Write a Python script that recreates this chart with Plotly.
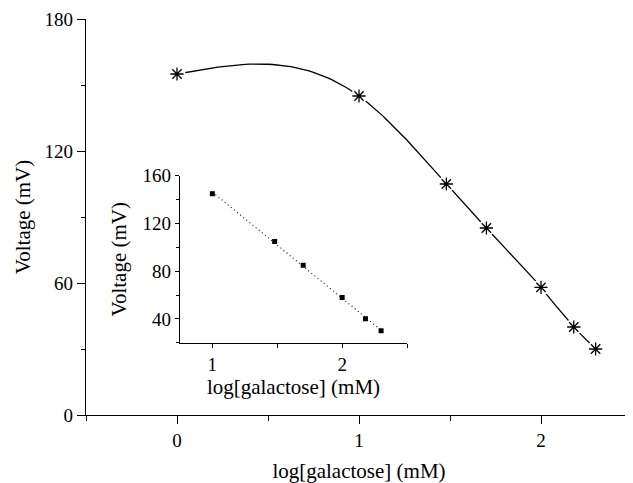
import numpy as np
import plotly.graph_objects as go

# Main data
log_gal = [0.0, 1.0, 1.48, 1.70, 2.0, 2.18, 2.30]
voltage = [155, 145, 105, 85, 58, 40, 30]

# Inset data
inset_log_gal = [1.0, 1.48, 1.70, 2.0, 2.18, 2.30]
inset_voltage = [145, 105, 85, 58, 40, 30]

x_ticks_main = [0, 1, 2]
y_ticks_main = [0, 60, 120, 180]
x_ticks_inset = [1, 2]
y_ticks_inset = [40, 80, 120, 160]

FONT = "Liberation Serif"
BLACK = "#000000"


def natural_spline(xs, ys, n_per=40):
    """Smooth curve through the data points (natural cubic spline)."""
    x = np.asarray(xs, float)
    y = np.asarray(ys, float)
    n = len(x)
    h = np.diff(x)
    A = np.zeros((n, n))
    b = np.zeros(n)
    A[0, 0] = A[-1, -1] = 1
    for i in range(1, n - 1):
        A[i, i - 1] = h[i - 1]
        A[i, i] = 2 * (h[i - 1] + h[i])
        A[i, i + 1] = h[i]
        b[i] = 6 * ((y[i + 1] - y[i]) / h[i] - (y[i] - y[i - 1]) / h[i - 1])
    M = np.linalg.solve(A, b)
    out_x, out_y = [], []
    for i in range(n - 1):
        t = np.linspace(x[i], x[i + 1], n_per, endpoint=(i == n - 2))
        a = x[i + 1] - t
        c = t - x[i]
        s = (M[i] * a**3 + M[i + 1] * c**3) / (6 * h[i]) \
            + (y[i] / h[i] - M[i] * h[i] / 6) * a + (y[i + 1] / h[i] - M[i + 1] * h[i] / 6) * c
        out_x.extend(t.tolist())
        out_y.extend(s.tolist())
    return out_x, out_y


curve_x, curve_y = natural_spline(log_gal, voltage)

fig = go.Figure()

# main smooth curve
fig.add_trace(go.Scatter(x=curve_x, y=curve_y, mode="lines",
                         line=dict(color=BLACK, width=1.3),
                         hoverinfo="skip", showlegend=False))
# white halo under markers
fig.add_trace(go.Scatter(x=log_gal, y=voltage, mode="markers",
                         marker=dict(symbol="circle", size=17, color="white"),
                         hoverinfo="skip", showlegend=False))
# asterisk markers
fig.add_trace(go.Scatter(x=log_gal, y=voltage, mode="markers",
                         marker=dict(symbol="asterisk-open", size=11, color=BLACK,
                                     line=dict(color=BLACK, width=1.3)),
                         showlegend=False))

# inset linear fit (dotted) and points
coef = np.polyfit(inset_log_gal, inset_voltage, 1)
fit_x = [min(inset_log_gal), max(inset_log_gal)]
fit_y = list(np.polyval(coef, fit_x))
fig.add_trace(go.Scatter(x=fit_x, y=fit_y, mode="lines", xaxis="x2", yaxis="y2",
                         line=dict(color="#222222", width=1.2, dash="1px,3px"),
                         hoverinfo="skip", showlegend=False))
fig.add_trace(go.Scatter(x=inset_log_gal, y=inset_voltage, mode="markers",
                         xaxis="x2", yaxis="y2",
                         marker=dict(symbol="square", size=5, color=BLACK),
                         showlegend=False))

tickfont = dict(family=FONT, size=19, color=BLACK)
titlefont = dict(family=FONT, size=21, color=BLACK)

common = dict(ticks="outside", tickwidth=1.2, tickcolor=BLACK, showline=True,
              linecolor=BLACK, linewidth=1.2, showgrid=False, zeroline=False,
              tickfont=tickfont, automargin=False)

# the page adds an 8px body margin, so the figure is sized to fit the window
fig.update_layout(
    width=625, height=475,
    margin=dict(l=78, r=1, t=11, b=68),
    paper_bgcolor="white", plot_bgcolor="white",
    xaxis=dict(range=[-0.5, 2.5], tickvals=x_ticks_main, ticklen=8, **common,
               minor=dict(ticks="outside", ticklen=5, tickwidth=1.2, tickcolor=BLACK,
                          dtick=0.5, tick0=-0.5, showgrid=False),
               title=dict(text="log[galactose] (mM)", font=titlefont, standoff=13)),
    yaxis=dict(range=[0, 180], tickvals=y_ticks_main, ticklen=8, **common,
               minor=dict(ticks="outside", ticklen=4, tickwidth=1.2, tickcolor=BLACK,
                          dtick=30, tick0=0, showgrid=False),
               title=dict(text="Voltage (mV)", font=titlefont, standoff=8)),
    xaxis2=dict(domain=[0.172, 0.588], anchor="y2", range=[0.75, 2.5], tickvals=x_ticks_inset,
                ticklen=4, **common,
                minor=dict(ticks="outside", ticklen=4, tickwidth=1.2, tickcolor=BLACK,
                           dtick=0.5, tick0=0, showgrid=False),
                title=dict(text="log[galactose] (mM)", font=titlefont, standoff=0)),
    yaxis2=dict(domain=[0.1826, 0.604], anchor="x2", range=[20, 160], tickvals=y_ticks_inset,
                ticklen=4, **common,
                minor=dict(ticks="outside", ticklen=3, tickwidth=1.2, tickcolor=BLACK,
                           dtick=20, tick0=0, showgrid=False),
                title=dict(text="Voltage (mV)", font=titlefont, standoff=10)),
)

fig.write_html("out.html")
